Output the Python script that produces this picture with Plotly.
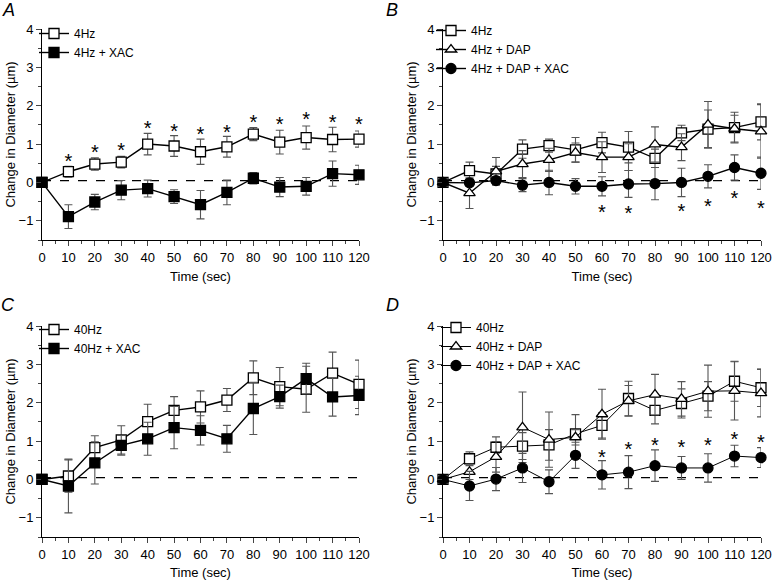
import plotly.graph_objects as go

# ---- data -----------------------------------------------------------------
t = [0, 10, 20, 30, 40, 50, 60, 70, 80, 90, 100, 110, 120]

# panel A
a_4hz = [0, 0.28, 0.48, 0.53, 1.00, 0.95, 0.80, 0.93, 1.26, 1.05, 1.17, 1.12, 1.13]
a_4hz_err = [0, 0.14, 0.16, 0.15, 0.28, 0.27, 0.33, 0.27, 0.17, 0.31, 0.30, 0.32, 0.21]
a_xac = [0, -0.89, -0.51, -0.20, -0.16, -0.37, -0.58, -0.26, 0.11, -0.12, -0.10, 0.23, 0.20]
a_xac_err = [0, 0.31, 0.20, 0.25, 0.22, 0.18, 0.37, 0.32, 0.15, 0.25, 0.23, 0.33, 0.25]
a_star_t = [10, 20, 30, 40, 50, 60, 70, 80, 90, 100, 110, 120]
a_star_y = [0.68, 0.92, 0.96, 1.55, 1.45, 1.38, 1.44, 1.69, 1.65, 1.76, 1.69, 1.63]

# panel B
b_4hz = [0, 0.31, 0.22, 0.87, 0.96, 0.85, 1.04, 0.92, 0.63, 1.29, 1.39, 1.43, 1.58]
b_4hz_err = [0, 0.22, 0.20, 0.24, 0.17, 0.32, 0.27, 0.41, 0.24, 0.20, 0.50, 0.40, 0.47]
b_dap = [0, -0.28, 0.29, 0.48, 0.59, 0.78, 0.66, 0.66, 0.99, 0.92, 1.51, 1.40, 1.33]
b_dap_err = [0, 0.40, 0.36, 0.35, 0.30, 0.25, 0.40, 0.35, 0.46, 0.35, 0.60, 0.35, 0.70]
b_xac = [0, -0.01, 0.05, -0.07, 0.0, -0.10, -0.10, -0.04, -0.03, 0.0, 0.16, 0.39, 0.24]
b_xac_err = [0, 0.08, 0.10, 0.17, 0.32, 0.20, 0.25, 0.35, 0.42, 0.37, 0.30, 0.33, 0.42]
b_star_t = [60, 70, 90, 100, 110, 120]
b_star_y = [-0.65, -0.69, -0.63, -0.50, -0.28, -0.56]

# panel C
c_40hz = [0, 0.09, 0.83, 1.03, 1.51, 1.80, 1.89, 2.07, 2.65, 2.42, 2.35, 2.77, 2.48]
c_40hz_err = [0, 0.42, 0.31, 0.37, 0.45, 0.36, 0.42, 0.30, 0.44, 0.50, 0.60, 0.55, 0.63]
c_xac = [0, -0.17, 0.43, 0.89, 1.06, 1.35, 1.28, 1.06, 1.85, 2.16, 2.63, 2.15, 2.19]
c_xac_err = [0, 0.70, 0.55, 0.26, 0.43, 0.55, 0.38, 0.35, 0.68, 0.30, 0.40, 0.50, 0.50]

# panel D
d_40hz = [0, 0.54, 0.84, 0.87, 0.90, 1.19, 1.41, 2.11, 1.80, 1.98, 2.17, 2.56, 2.39]
d_40hz_err = [0, 0.18, 0.27, 0.35, 0.40, 0.50, 0.33, 0.45, 0.35, 0.38, 0.38, 0.52, 0.49]
d_dap = [0, 0.20, 0.59, 1.36, 1.04, 1.10, 1.70, 2.05, 2.21, 2.10, 2.30, 2.31, 2.25]
d_dap_err = [0, 0.20, 0.40, 0.92, 0.72, 0.20, 0.65, 0.40, 0.53, 0.45, 0.68, 0.76, 0.62]
d_xac = [0, -0.17, 0.01, 0.30, -0.06, 0.63, 0.12, 0.19, 0.36, 0.30, 0.30, 0.61, 0.57]
d_xac_err = [0, 0.38, 0.30, 0.38, 0.31, 0.34, 0.37, 0.43, 0.41, 0.30, 0.37, 0.28, 0.26]
d_star_t = [60, 70, 80, 90, 100, 110, 120]
d_star_y = [0.70, 0.92, 1.01, 0.96, 1.02, 1.17, 1.10]

baseline = 0.05  # dashed reference line

FONT = "Liberation Sans, Arial, Helvetica, sans-serif"
W, H = 772, 580
STAR_DY = -0.17  # "*" glyph sits high in its box; pull it down to its mark

# panel placement in pixels: (x_left, x_right, y_top, y_bottom)
panels = {
    1: (42, 359, 29, 240),
    2: (443, 761, 29, 240),
    3: (42, 359, 326, 537),
    4: (443, 761, 326, 537),
}

fig = go.Figure()


def series(k, y, err, name, symbol, fill, lw=1.4, size=10):
    ax = "" if k == 1 else str(k)
    fig.add_trace(go.Scatter(
        x=t, y=y, name=name, mode="lines+markers",
        xaxis="x" + ax, yaxis="y" + ax, legend="legend" + ax,
        line=dict(color="black", width=lw),
        marker=dict(symbol=symbol, size=size, color=fill,
                    line=dict(color="black", width=1.3)),
        error_y=dict(type="data", array=err, color="#555555",
                     thickness=1.1, width=4),
        cliponaxis=False))


def stars(k, xs, ys):
    ax = "" if k == 1 else str(k)
    fig.add_trace(go.Scatter(
        x=xs, y=[v + STAR_DY for v in ys], mode="text",
        text=["*"] * len(xs),
        textfont=dict(size=20, color="black", family=FONT),
        xaxis="x" + ax, yaxis="y" + ax, showlegend=False,
        hoverinfo="skip", cliponaxis=False))


series(1, a_4hz, a_4hz_err, "4Hz", "square", "white")
series(1, a_xac, a_xac_err, "4Hz + XAC", "square", "black")
stars(1, a_star_t, a_star_y)

series(2, b_4hz, b_4hz_err, "4Hz", "square", "white")
series(2, b_dap, b_dap_err, "4Hz + DAP", "triangle-up", "white")
series(2, b_xac, b_xac_err, "4Hz + DAP + XAC", "circle", "black")
stars(2, b_star_t, b_star_y)

series(3, c_40hz, c_40hz_err, "40Hz", "square", "white")
series(3, c_xac, c_xac_err, "40Hz + XAC", "square", "black")

series(4, d_40hz, d_40hz_err, "40Hz", "square", "white", lw=1.0)
series(4, d_dap, d_dap_err, "40Hz + DAP", "triangle-up", "white", lw=1.0)
series(4, d_xac, d_xac_err, "40Hz + DAP + XAC", "circle", "black", lw=1.0)
stars(4, d_star_t, d_star_y)

layout = dict(
    width=W, height=H, margin=dict(l=0, r=0, t=0, b=0, autoexpand=False),
    paper_bgcolor="white", plot_bgcolor="white",
    font=dict(family=FONT, size=13, color="black"),
    showlegend=True,
)

legend_pos = {1: (34, 19), 2: (431, 16), 3: (34, 315), 4: (436, 313)}
letters = {1: "A", 2: "B", 3: "C", 4: "D"}
letter_pos = {1: (8, 10), 2: (392, 10), 3: (8, 305), 4: (392, 305)}

shapes, annotations = [], []
for k, (x0, x1, y0, y1) in panels.items():
    ax = "" if k == 1 else str(k)
    layout["xaxis" + ax] = dict(
        domain=[x0 / W, x1 / W], anchor="y" + ax, range=[0, 120],
        automargin=False,
        tickmode="linear", tick0=0, dtick=10, ticks="outside", ticklen=5,
        showline=True, linecolor="black", linewidth=1, showgrid=False,
        zeroline=False, tickfont=dict(size=13),
        minor=dict(ticks="outside", dtick=5, ticklen=3, showgrid=False),
        title=dict(text="Time (sec)", font=dict(size=13), standoff=8),
    )
    layout["yaxis" + ax] = dict(
        domain=[1 - y1 / H, 1 - y0 / H], anchor="x" + ax, range=[-1.5, 4],
        automargin=False,
        tickmode="linear", tick0=0, dtick=1, ticks="outside", ticklen=5,
        showline=True, linecolor="black", linewidth=1, showgrid=False,
        zeroline=False, tickfont=dict(size=13),
        minor=dict(ticks="outside", dtick=0.5, ticklen=3, showgrid=False),
        title=dict(text="Change in Diameter (µm)", font=dict(size=13),
                   standoff=0),
    )
    lx, ly = legend_pos[k]
    layout["legend" + ax] = dict(
        x=lx / W, y=1 - ly / H, xanchor="left", yanchor="top",
        bgcolor="rgba(0,0,0,0)", font=dict(size=12), tracegroupgap=0,
        itemwidth=30,
    )
    shapes.append(dict(type="line", xref="x" + ax, yref="y" + ax,
                       x0=0, x1=120, y0=baseline, y1=baseline,
                       line=dict(color="black", width=1.3, dash="dash"),
                       layer="below"))
    px, py = letter_pos[k]
    annotations.append(dict(
        text="<i>" + letters[k] + "</i>", xref="paper", yref="paper",
        x=px / W, y=1 - py / H, xanchor="center", yanchor="middle",
        showarrow=False, font=dict(size=18)))

layout["shapes"] = shapes
layout["annotations"] = annotations
fig.update_layout(**layout)

# page body has a default 8px margin; drop it so the figure fills the window
fig.write_html("out.html", config={"displayModeBar": False},
               post_script="document.body.style.margin='0';")
